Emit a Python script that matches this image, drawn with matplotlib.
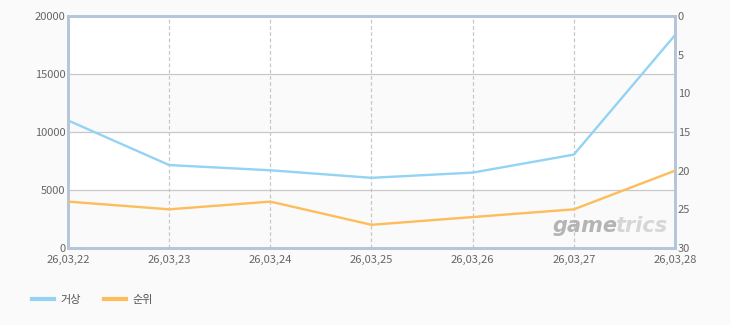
import matplotlib
matplotlib.use("Agg")
import matplotlib.pyplot as plt
from matplotlib.lines import Line2D

plt.rcParams['font.family'] = ['Noto Sans CJK KR', 'DejaVu Sans']

dates = ["26,03,22", "26,03,23", "26,03,24", "26,03,25", "26,03,26", "26,03,27", "26,03,28"]
geosang = [11000, 7150, 6700, 6050, 6500, 8050, 18350]
rank = [24, 25, 24, 27, 26, 25, 20]
left_ticks = [0, 5000, 10000, 15000, 20000]
right_ticks = [0, 5, 10, 15, 20, 25, 30]

blue = "#93d3f3"
orange = "#fdbd5b"
spine_c = "#b4c6d8"
tick_c = "#666666"

fig = plt.figure(figsize=(7.3, 3.25), dpi=100, facecolor="#fafafa")
ax = fig.add_axes([68/730, 1-248/325, (675-68)/730, (248-16)/325])
ax.set_facecolor("white")
x = list(range(len(dates)))

# alternating bands
for i in range(len(left_ticks)-1):
    if i % 2 == 0:
        ax.axhspan(left_ticks[i], left_ticks[i+1], color="#fafafa", zorder=0, lw=0)

ax.set_ylim(0, 20000)
ax.set_xlim(0, len(dates)-1)
ax.set_yticks(left_ticks)
ax.set_xticks(x)
ax.set_xticklabels(dates)
for yv in left_ticks[1:-1]:
    ax.axhline(yv, color="#c8c8c8", lw=0.9, zorder=1)
for xv in x[1:-1]:
    ax.axvline(xv, color="#c8c8c8", lw=0.9, ls=(0, (3, 2)), zorder=1)

ax.plot(x, geosang, color=blue, lw=1.7, zorder=3)

ax2 = ax.twinx()
ax2.set_ylim(30, 0)
ax2.set_yticks(right_ticks)
ax2.plot(x, rank, color=orange, lw=1.7, zorder=3)

for a in (ax, ax2):
    for s in a.spines.values():
        s.set_color(spine_c)
        s.set_linewidth(2)
    a.tick_params(length=0, labelsize=8, colors=tick_c, pad=2)
ax.tick_params(axis='x', pad=5)

# watermark
ax.text(0.905, 0.05, "game", transform=ax.transAxes, fontsize=15, fontstyle="italic",
        fontweight="bold", color="#b4b4b4", ha="right", va="bottom", family="DejaVu Sans", zorder=2)
ax.text(0.902, 0.05, "trics", transform=ax.transAxes, fontsize=15, fontstyle="italic",
        fontweight="bold", color="#d6d6d6", ha="left", va="bottom", family="DejaVu Sans", zorder=2)

handles = [Line2D([], [], color=blue, lw=3), Line2D([], [], color=orange, lw=3)]
fig.legend(handles, ["거상", "순위"], loc="lower left", bbox_to_anchor=(0.03, 0.03),
           ncol=2, frameon=False, fontsize=8, labelcolor="#555555",
           handlelength=2, handletextpad=0.6, columnspacing=2.0)

fig.savefig("out.png", dpi=100, facecolor=fig.get_facecolor())
